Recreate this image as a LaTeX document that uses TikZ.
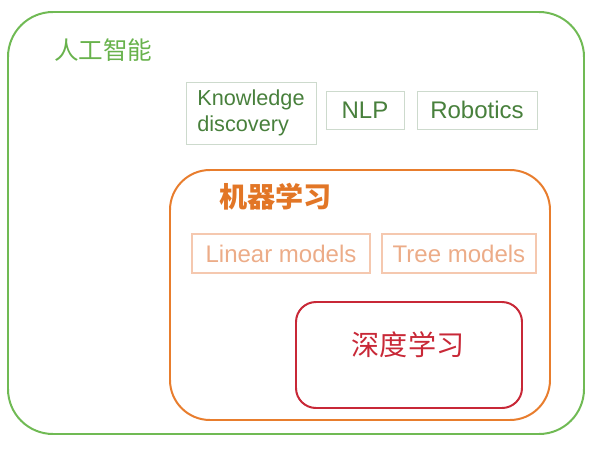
\documentclass[tikz,border=0pt]{standalone}
\usepackage{fontspec}
\setmainfont{Liberation Sans}
\newfontfamily\cjk{Noto Sans CJK SC}
\usepackage{tikz}
\usetikzlibrary{positioning}
\definecolor{aigreen}{RGB}{112,186,84}
\definecolor{aitext}{RGB}{104,178,76}
\definecolor{kbborder}{RGB}{205,218,205}
\definecolor{kbtext}{RGB}{72,128,60}
\definecolor{mlorange}{RGB}{232,125,45}
\definecolor{mltext}{RGB}{226,118,38}
\definecolor{lmborder}{RGB}{245,200,175}
\definecolor{lmtext}{RGB}{236,172,136}
\definecolor{dlred}{RGB}{200,40,55}
\tikzset{
  area/.style={rectangle, line width=1.7pt, inner sep=0pt},
  aibox/.style={rectangle, draw=kbborder, line width=0.8pt, text=kbtext,
    minimum height=1.14cm, inner sep=0pt, font=\fontsize{20.5}{22}\selectfont},
  mlbox/.style={rectangle, draw=lmborder, line width=1.2pt, text=lmtext,
    minimum height=1.17cm, inner sep=0pt, font=\fontsize{20.5}{22}\selectfont}
}
\begin{document}
\begin{tikzpicture}
  \useasboundingbox (0,0) rectangle (18,-13.68);

  % Artificial intelligence (outer)
  \node[area, draw=aigreen, rounded corners=1.35cm, minimum width=17.28cm, minimum height=12.66cm] (ai) at (8.88,-6.69) {};
  \node[anchor=west, text=aitext, font=\cjk\fontsize{21}{21}\selectfont] (ailabel) at (1.5,-1.5) {人工智能};

  % AI fields
  \node[aibox, minimum width=3.9cm, minimum height=1.86cm, align=left, font=\fontsize{18.5}{22}\selectfont] (kd) at (7.53,-3.39) {Knowledge\\discovery};
  \node[aibox, minimum width=2.34cm] (nlp) at (10.95,-3.3) {NLP};
  \node[aibox, minimum width=3.6cm] (robo) at (14.31,-3.3) {Robotics};

  % Machine learning
  \node[area, draw=mlorange, rounded corners=1.2cm, minimum width=11.4cm, minimum height=7.5cm] (ml) at (10.8,-8.85) {};
  \node[anchor=west, text=mltext, font=\cjk\bfseries\fontsize{24}{24}\selectfont] (mllabel) at (6.45,-5.91) {机器学习};

  % ML models
  \node[mlbox, minimum width=5.34cm] (linear) at (8.43,-7.605) {Linear models};
  \node[mlbox, minimum width=4.62cm] (tree) at (13.77,-7.605) {Tree models};

  % Deep learning
  \node[area, draw=dlred, rounded corners=0.6cm, minimum width=6.78cm, minimum height=3.18cm] (dl) at (12.27,-10.65) {};
  \node[text=dlred, font=\cjk\fontsize{24}{24}\selectfont] (dllabel) at (12.24,-10.35) {深度学习};
\end{tikzpicture}
\end{document}
